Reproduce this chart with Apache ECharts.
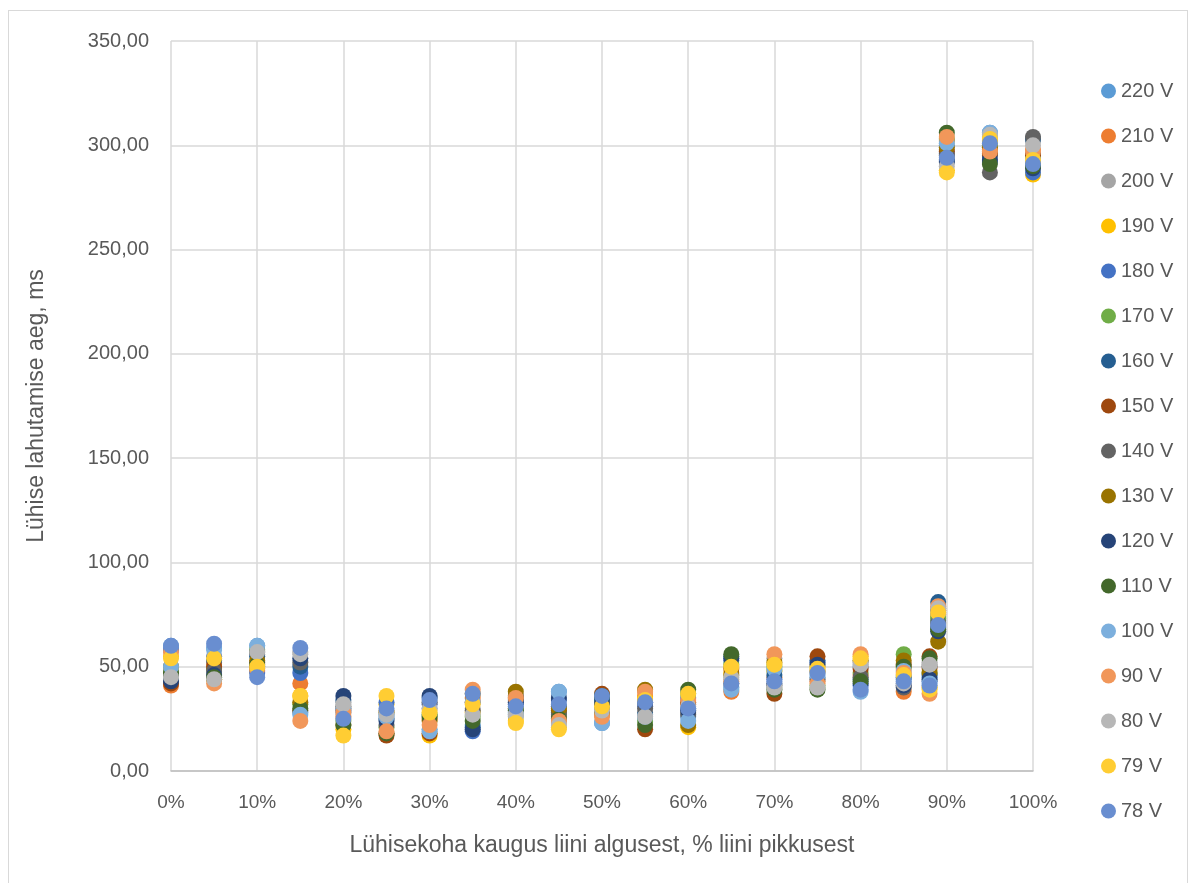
<!DOCTYPE html>
<html>
<head>
<meta charset="utf-8">
<script src="https://cdn.jsdelivr.net/npm/echarts@6/dist/echarts.min.js"></script>
<style>
  html, body { margin: 0; padding: 0; background: #fff; }
  #chart { width: 1194px; height: 883px; }
  #frame { position: absolute; left: 8px; top: 10px; width: 1178px; height: 880px; border: 1px solid #d9d9d9; pointer-events: none; }
</style>
</head>
<body>
<div id="chart"></div>
<div id="frame"></div>
<script>
// Fault position along the line, % of line length
const positions = [0, 5, 10, 15, 20, 25, 30, 35, 40, 45, 50, 55, 60, 65, 70, 75, 80, 85, 88, 89, 90, 95, 100];

const seriesNames = ['220 V', '210 V', '200 V', '190 V', '180 V', '170 V', '160 V', '150 V', '140 V',
                     '130 V', '120 V', '110 V', '100 V', '90 V', '80 V', '79 V', '78 V'];

const seriesColors = ['#5B9BD5', '#ED7D31', '#A5A5A5', '#FFC000', '#4472C4', '#70AD47', '#255E91', '#9E480E', '#636363',
                      '#997300', '#264478', '#43682B', '#7CAFDD', '#F1975A', '#B7B7B7', '#FFCD33', '#698ED0'];

// Fault clearing time (ms) for each supply voltage, one value per position
const v220 = [60, 59, 60, 28, 28, 27, 20, 22, 28, 38, 23, 25, 26, 40, 48, 45, 50, 44, 45, 72, 300, 306, 296];
const v210 = [41, 52, 48, 42, 26, 18, 25, 35, 30, 26, 27, 36, 32, 38, 45, 43, 46, 38, 49, 75, 302, 298, 298];
const v200 = [44, 47, 56, 57, 33, 29, 30, 30, 26, 23, 30, 28, 28, 44, 54, 47, 52, 46, 52, 78, 298, 304, 302];
const v190 = [55, 44, 49, 36, 20, 32, 17, 28, 24, 21, 33, 35, 21, 47, 48, 50, 55, 49, 40, 74, 288, 302, 286];
const v180 = [58, 55, 47, 47, 29, 33, 32, 19, 32, 34, 35, 31, 35, 53, 44, 52, 41, 42, 43, 69, 296, 292, 287];
const v170 = [47, 49, 58, 32, 24, 21, 27, 26, 30, 28, 31, 24, 37, 51, 50, 41, 47, 56, 47, 73, 303, 300, 294];
const v160 = [43, 53, 55, 50, 34, 25, 35, 21, 34, 31, 34, 27, 30, 55, 46, 53, 44, 45, 46, 81, 293, 295, 303];
const v150 = [42, 50, 52, 29, 30, 17, 18, 33, 35, 29, 37, 20, 33, 49, 37, 55, 49, 51, 55, 77, 297, 296, 295];
const v140 = [46, 48, 57, 52, 31, 22, 33, 29, 36, 27, 29, 30, 27, 42, 41, 44, 45, 40, 50, 71, 295, 287, 304];
const v130 = [50, 44, 53, 33, 22, 28, 24, 37, 38, 30, 28, 39, 22, 46, 52, 48, 53, 53, 47, 62, 299, 299, 292];
const v120 = [43, 46, 50, 54, 36, 24, 36, 20, 33, 35, 32, 33, 29, 54, 42, 51, 42, 41, 44, 67, 292, 293, 289];
const v110 = [47, 45, 51, 30, 22, 18, 26, 24, 29, 25, 36, 22, 39, 56, 39, 39, 43, 50, 54, 68, 306, 291, 290];
const v100 = [50, 58, 60, 27, 30, 26, 19, 33, 27, 38, 23, 26, 24, 39, 49, 46, 38, 48, 42, 76, 301, 306, 293];
const v90  = [57, 42, 49, 24, 28, 19, 22, 39, 35, 24, 26, 38, 34, 43, 56, 42, 56, 47, 37, 79, 304, 297, 297];
const v80  = [45, 44, 57, 56, 32, 27, 30, 27, 27, 22, 29, 26, 31, 45, 40, 40, 51, 42, 51, 78, 290, 305, 300];
const v79  = [54, 54, 50, 36, 17, 36, 28, 32, 23, 20, 31, 34, 37, 50, 51, 49, 54, 46, 39, 76, 287, 303, 293];
const v78  = [60, 61, 45, 59, 25, 30, 34, 37, 31, 32, 36, 33, 30, 42, 43, 47, 39, 43, 41, 70, 294, 301, 291];

const seriesValues = [v220, v210, v200, v190, v180, v170, v160, v150, v140, v130, v120, v110, v100, v90, v80, v79, v78];

// Value-axis ticks
const yTicks = [0, 50, 100, 150, 200, 250, 300, 350];
const xTickLabels = ['0%', '10%', '20%', '30%', '40%', '50%', '60%', '70%', '80%', '90%', '100%'];

const font = '"Liberation Sans", Arial, sans-serif';
const textColor = '#595959';

const chart = echarts.init(document.getElementById('chart'), null, { renderer: 'canvas' });

const series = seriesNames.map((name, i) => ({
  name: name,
  type: 'scatter',
  symbol: 'circle',
  symbolSize: 16,
  itemStyle: { color: seriesColors[i], opacity: 1 },
  emphasis: { disabled: true },
  data: positions.map((p, j) => [p, seriesValues[i][j]])
}));

chart.setOption({
  animation: false,
  backgroundColor: '#ffffff',
  color: seriesColors,
  grid: { left: 171, right: 161, top: 41, bottom: 112, containLabel: false },
  xAxis: {
    type: 'value',
    min: 0,
    max: 100,
    interval: 10,
    name: 'Lühisekoha kaugus liini algusest, % liini pikkusest',
    nameLocation: 'middle',
    nameGap: 63,
    nameTextStyle: { fontFamily: font, fontSize: 23, color: textColor },
    axisLine: { show: true, lineStyle: { color: '#bfbfbf', width: 1.5 } },
    axisTick: { show: false },
    axisLabel: {
      margin: 22,
      fontFamily: font, fontSize: 19, color: textColor,
      formatter: v => xTickLabels[Math.round(v / 10)]
    },
    splitLine: { show: true, lineStyle: { color: '#d9d9d9', width: 1.5 } }
  },
  yAxis: {
    type: 'value',
    min: yTicks[0],
    max: yTicks[yTicks.length - 1],
    interval: 50,
    name: 'Lühise lahutamise aeg, ms',
    nameLocation: 'middle',
    nameGap: 123,
    nameRotate: 90,
    nameTextStyle: { fontFamily: font, fontSize: 23, color: textColor },
    axisLine: { show: false },
    axisTick: { show: false },
    axisLabel: {
      margin: 22,
      fontFamily: font, fontSize: 20, color: textColor,
      formatter: v => v.toFixed(2).replace('.', ',')
    },
    splitLine: { show: true, lineStyle: { color: '#d9d9d9', width: 1.5 } }
  },
  legend: {
    orient: 'vertical',
    left: 1096,
    top: 75,
    icon: 'circle',
    itemWidth: 15,
    itemHeight: 15,
    itemGap: 23,
    textStyle: { fontFamily: font, fontSize: 20, color: textColor, lineHeight: 22 },
    data: seriesNames
  },
  series: series
});
</script>
</body>
</html>
